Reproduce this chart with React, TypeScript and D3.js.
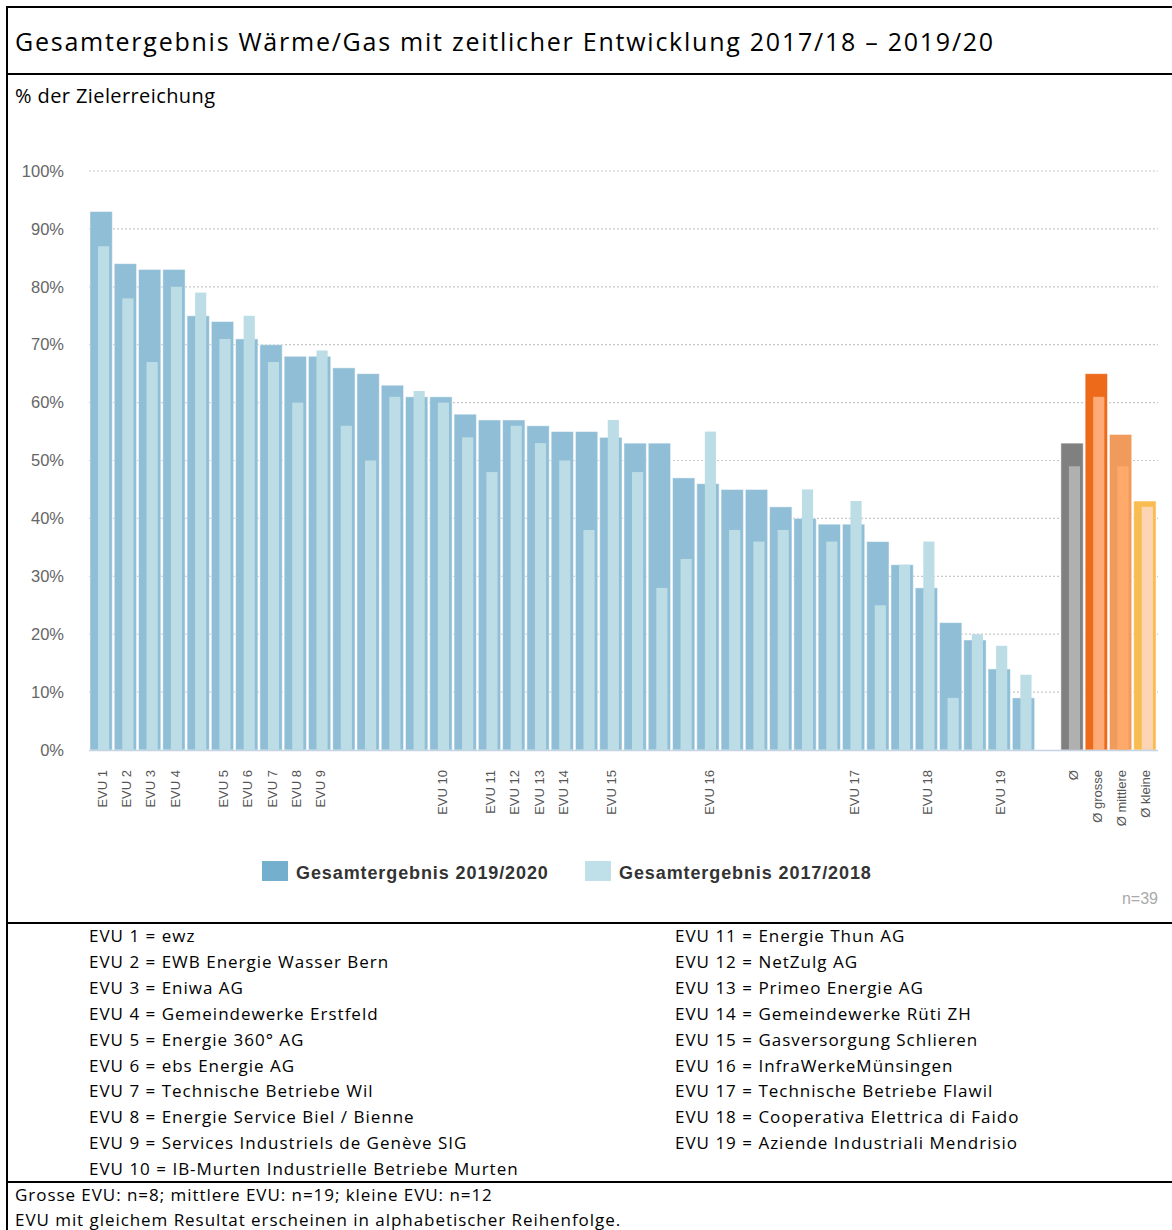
import React from 'react';
import * as d3 from 'd3';

// EVU slots (unnamed slots have no label on the axis)
const evuLabels = [
  'EVU 1', 'EVU 2', 'EVU 3', 'EVU 4', '', 'EVU 5', 'EVU 6', 'EVU 7', 'EVU 8', 'EVU 9',
  '', '', '', '', 'EVU 10', '', 'EVU 11', 'EVU 12', 'EVU 13', 'EVU 14',
  '', 'EVU 15', '', '', '', 'EVU 16', '', '', '', '',
  '', 'EVU 17', '', '', 'EVU 18', '', '', 'EVU 19', '',
];
const values2020 = [
  93, 84, 83, 83, 75, 74, 71, 70, 68, 68, 66, 65, 63, 61, 61, 58, 57, 57, 56, 55,
  55, 54, 53, 53, 47, 46, 45, 45, 42, 40, 39, 39, 36, 32, 28, 22, 19, 14, 9,
];
const values2018 = [
  87, 78, 67, 80, 79, 71, 75, 67, 60, 69, 56, 50, 61, 62, 60, 54, 48, 56, 53, 50,
  38, 57, 48, 28, 33, 55, 38, 36, 38, 45, 36, 43, 25, 32, 36, 9, 20, 18, 13,
];

const avgLabels = ['Ø', 'Ø grosse', 'Ø mittlere', 'Ø kleine'];
const avg2020 = [53, 65, 54.5, 43];
const avg2018 = [49, 61, 49, 42];
const avgDark = ['#808080', '#ec6a1a', '#f09b5c', '#f8bc50'];
const avgLight = ['#b0b0b0', '#ffab78', '#ffa96a', '#fdd5b5'];

const yTicks = [0, 10, 20, 30, 40, 50, 60, 70, 80, 90, 100];

const legendItems = ['Gesamtergebnis 2019/2020', 'Gesamtergebnis 2017/2018'];

const namesLeft = [
  'EVU 1 = ewz',
  'EVU 2 = EWB Energie Wasser Bern',
  'EVU 3 = Eniwa AG',
  'EVU 4 = Gemeindewerke Erstfeld',
  'EVU 5 = Energie 360° AG',
  'EVU 6 = ebs Energie AG',
  'EVU 7 = Technische Betriebe Wil',
  'EVU 8 = Energie Service Biel / Bienne',
  'EVU 9 = Services Industriels de Genève SIG',
  'EVU 10 = IB-Murten Industrielle Betriebe Murten',
];
const namesRight = [
  'EVU 11 = Energie Thun AG',
  'EVU 12 = NetZulg AG',
  'EVU 13 = Primeo Energie AG',
  'EVU 14 = Gemeindewerke Rüti ZH',
  'EVU 15 = Gasversorgung Schlieren',
  'EVU 16 = InfraWerkeMünsingen',
  'EVU 17 = Technische Betriebe Flawil',
  'EVU 18 = Cooperativa Elettrica di Faido',
  'EVU 19 = Aziende Industriali Mendrisio',
];
const footnotes = [
  'Grosse EVU: n=8; mittlere EVU: n=19; kleine EVU: n=12',
  'EVU mit gleichem Resultat erscheinen in alphabetischer Reihenfolge.',
];

const W = 1172;
const H = 1230;
const DARK = '#8fbed6';
const LIGHT = '#bcdde5';
const textFont = "'Open Sans', sans-serif";
const axisFont = "'Liberation Sans', Arial, sans-serif";

const App: React.FC = () => {
  // 39 EVU + 1 empty slot + 4 averages
  const slots = d3.range(evuLabels.length + 1 + avgLabels.length).map(String);
  const x = d3.scaleBand().domain(slots).range([89, 1157]).paddingInner(0.08).paddingOuter(0.04);
  const y = d3.scaleLinear().domain([0, 100]).range([750, 171]);
  const bw = x.bandwidth();

  const bars = [
    ...evuLabels.map((label, i) => ({
      key: String(i), label, v20: values2020[i], v18: values2018[i], dark: DARK, light: LIGHT,
    })),
    ...avgLabels.map((label, i) => ({
      key: String(evuLabels.length + 1 + i), label, v20: avg2020[i], v18: avg2018[i],
      dark: avgDark[i], light: avgLight[i],
    })),
  ];

  return (
    <div style={{ position: 'absolute', left: 0, top: 0, width: W, height: H, background: '#fff' }}>
      <svg width={W} height={H} style={{ display: 'block' }}>
        {/* frame */}
        <g stroke="#000" strokeWidth={2}>
          <line x1={7} x2={W} y1={7} y2={7} />
          <line x1={7} x2={W} y1={74} y2={74} />
          <line x1={7} x2={W} y1={923} y2={923} />
          <line x1={7} x2={W} y1={1182} y2={1182} />
          <line x1={7} x2={7} y1={6} y2={H} />
        </g>
        <text x={15} y={51} fontFamily={textFont} fontSize={25} letterSpacing={1.75} fill="#000">
          Gesamtergebnis Wärme/Gas mit zeitlicher Entwicklung 2017/18 – 2019/20
        </text>
        <text x={15} y={103} fontFamily={textFont} fontSize={20} letterSpacing={0.4} fill="#000">% der Zielerreichung</text>

        {/* grid + y axis */}
        {yTicks.map((t) => (
          <g key={t}>
            {t > 0 && (
              <line x1={89} x2={1158} y1={y(t)} y2={y(t)} stroke="#c8c8c8" strokeWidth={1.2} strokeDasharray="2,2" />
            )}
            <text x={64} y={y(t)} dy="0.35em" textAnchor="end" fontFamily={axisFont} fontSize={16.5} fill="#666">
              {t}%
            </text>
          </g>
        ))}

        {/* bars */}
        {bars.map((b) => {
          const bx = x(b.key)!;
          return (
            <g key={b.key}>
              <rect x={bx} y={y(b.v20)} width={bw} height={y(0) - y(b.v20)} fill={b.dark}
                stroke="#fff" strokeOpacity={0.5} strokeWidth={1} />
              <rect x={bx + bw * 0.36} y={y(b.v18)} width={bw * 0.5} height={y(0) - y(b.v18)} fill={b.light} />
            </g>
          );
        })}
        <line x1={89} x2={1158} y1={750.5} y2={750.5} stroke="#c4d4e2" strokeWidth={1.5} />

        {/* x labels */}
        {bars.filter((b) => b.label).map((b) => (
          <text key={b.key} transform={`translate(${x(b.key)! + bw / 2 + 1},770) rotate(-90)`}
            textAnchor="end" dy="0.35em" fontFamily={axisFont} fontSize={13} fill="#555">
            {b.label}
          </text>
        ))}

        {/* legend */}
        {legendItems.map((item, i) => {
          const lx = i === 0 ? 262 : 585;
          return (
            <g key={item}>
              <rect x={lx} y={861} width={26} height={20} fill={i === 0 ? '#74b0ce' : '#bfe0e8'} />
              <text x={lx + 34} y={879} fontFamily={axisFont} fontSize={18} letterSpacing={0.9} fontWeight="bold" fill="#333">
                {item}
              </text>
            </g>
          );
        })}
        <text x={1158} y={904} textAnchor="end" fontFamily={axisFont} fontSize={16} fill="#aaa">n=39</text>

        {/* names */}
        {namesLeft.map((n, i) => (
          <text key={n} x={89} y={942 + i * 25.9} fontFamily={textFont} fontSize={17} letterSpacing={1.0} fill="#000">{n}</text>
        ))}
        {namesRight.map((n, i) => (
          <text key={n} x={675} y={942 + i * 25.9} fontFamily={textFont} fontSize={17} letterSpacing={1.0} fill="#000">{n}</text>
        ))}
        {footnotes.map((n, i) => (
          <text key={n} x={15} y={1201 + i * 25} fontFamily={textFont} fontSize={17} letterSpacing={0.95} fill="#000">{n}</text>
        ))}
      </svg>
    </div>
  );
};

export default App;
